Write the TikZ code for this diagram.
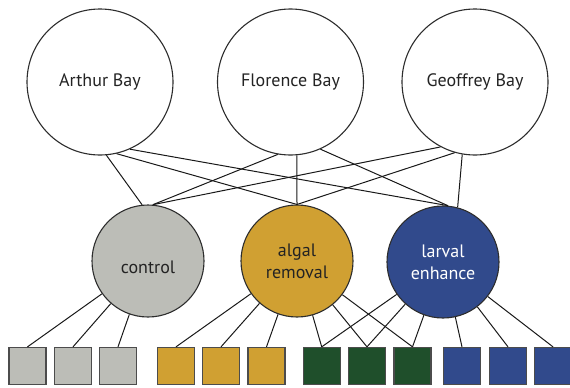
\documentclass[tikz,border=0pt]{standalone}
\usepackage{fontspec}
\setmainfont{PT Sans}
\usepackage{tikz}
\usepackage{xcolor}

\definecolor{ctrlgrey}{RGB}{188,189,183}
\definecolor{algalgold}{RGB}{208,160,50}
\definecolor{plotgreen}{RGB}{31,79,43}
\definecolor{larvalblue}{RGB}{49,74,140}
\definecolor{edgegrey}{RGB}{45,45,45}
\definecolor{textgrey}{RGB}{35,35,35}

\begin{document}
\begin{tikzpicture}[x=1pt, y=-1pt,
    bay/.style={circle, draw=edgegrey, line width=1.1pt, fill=white, minimum size=146pt, inner sep=0pt, text=textgrey, font=\fontsize{18}{22}\selectfont},
    treat/.style={circle, draw=edgegrey, line width=1.1pt, minimum size=112pt, inner sep=0pt, align=center, text=textgrey, font=\fontsize{18}{22}\selectfont},
    plot/.style={rectangle, draw=black!70, line width=1.3pt, minimum size=37pt, inner sep=0pt},
    link/.style={draw=black!90, line width=1pt}]
    \useasboundingbox (0,0) rectangle (570,388);

    % the three bays
    \node[bay] (arthur) at (100,82) {Arthur Bay};
    \node[bay] (florence) at (290.5,82) {Florence Bay};
    \node[bay] (geoffrey) at (475,82) {Geoffrey Bay};

    % treatments
    \node[treat, fill=ctrlgrey] (control) at (148,261) {};
    \node[text=textgrey, font=\fontsize{18}{22}\selectfont] (controltext) at (148,267) {control};
    \node[treat, fill=algalgold] (algal) at (297,261) {algal\\removal};
    \node[treat, fill=larvalblue, text=white] (larval) at (443,262) {larval\\enhance};

    % plots
    \node[plot, fill=ctrlgrey] (c1) at (27.5,366) {};
    \node[plot, fill=ctrlgrey] (c2) at (73,366) {};
    \node[plot, fill=ctrlgrey] (c3) at (118,366) {};
    \node[plot, fill=algalgold] (a1) at (176,366) {};
    \node[plot, fill=algalgold] (a2) at (221,366) {};
    \node[plot, fill=algalgold] (a3) at (266.5,366) {};
    \node[plot, fill=plotgreen] (g1) at (321.7,366) {};
    \node[plot, fill=plotgreen] (g2) at (367,366) {};
    \node[plot, fill=plotgreen] (g3) at (412.5,366) {};
    \node[plot, fill=larvalblue] (l1) at (462,366) {};
    \node[plot, fill=larvalblue] (l2) at (508,366) {};
    \node[plot, fill=larvalblue] (l3) at (553,366) {};

    % bays to treatments
    \draw[link] (arthur.-85) -- (control.96);
    \draw[link] (arthur.-77) -- (algal.90);
    \draw[link] (arthur.-66) -- (larval.85);
    \draw[link] (florence.-100) -- (control.85);
    \draw[link] (florence.-85) -- (algal.90);
    \draw[link] (florence.-66) -- (larval.85);
    \draw[link] (geoffrey.-118) -- (control.85);
    \draw[link] (geoffrey.-106) -- (algal.90);
    \draw[link] (geoffrey.-100) -- (larval.75);

    % treatments to plots
    \draw[link] (control) -- (c1.north);
    \draw[link] (control) -- (c2.north);
    \draw[link] (control) -- (c3.north);
    \draw[link] (algal) -- (a1.north);
    \draw[link] (algal) -- (a2.north);
    \draw[link] (algal) -- (a3.north);
    \draw[link] (algal) -- (g1.north);
    \draw[link] (algal) -- (g2.north);
    \draw[link] (algal) -- (g3.north);
    \draw[link] (larval) -- (g1.north);
    \draw[link] (larval) -- (g2.north);
    \draw[link] (larval) -- (g3.north);
    \draw[link] (larval) -- (l1.north);
    \draw[link] (larval) -- (l2.north);
    \draw[link] (larval) -- (l3.north);
\end{tikzpicture}
\end{document}
